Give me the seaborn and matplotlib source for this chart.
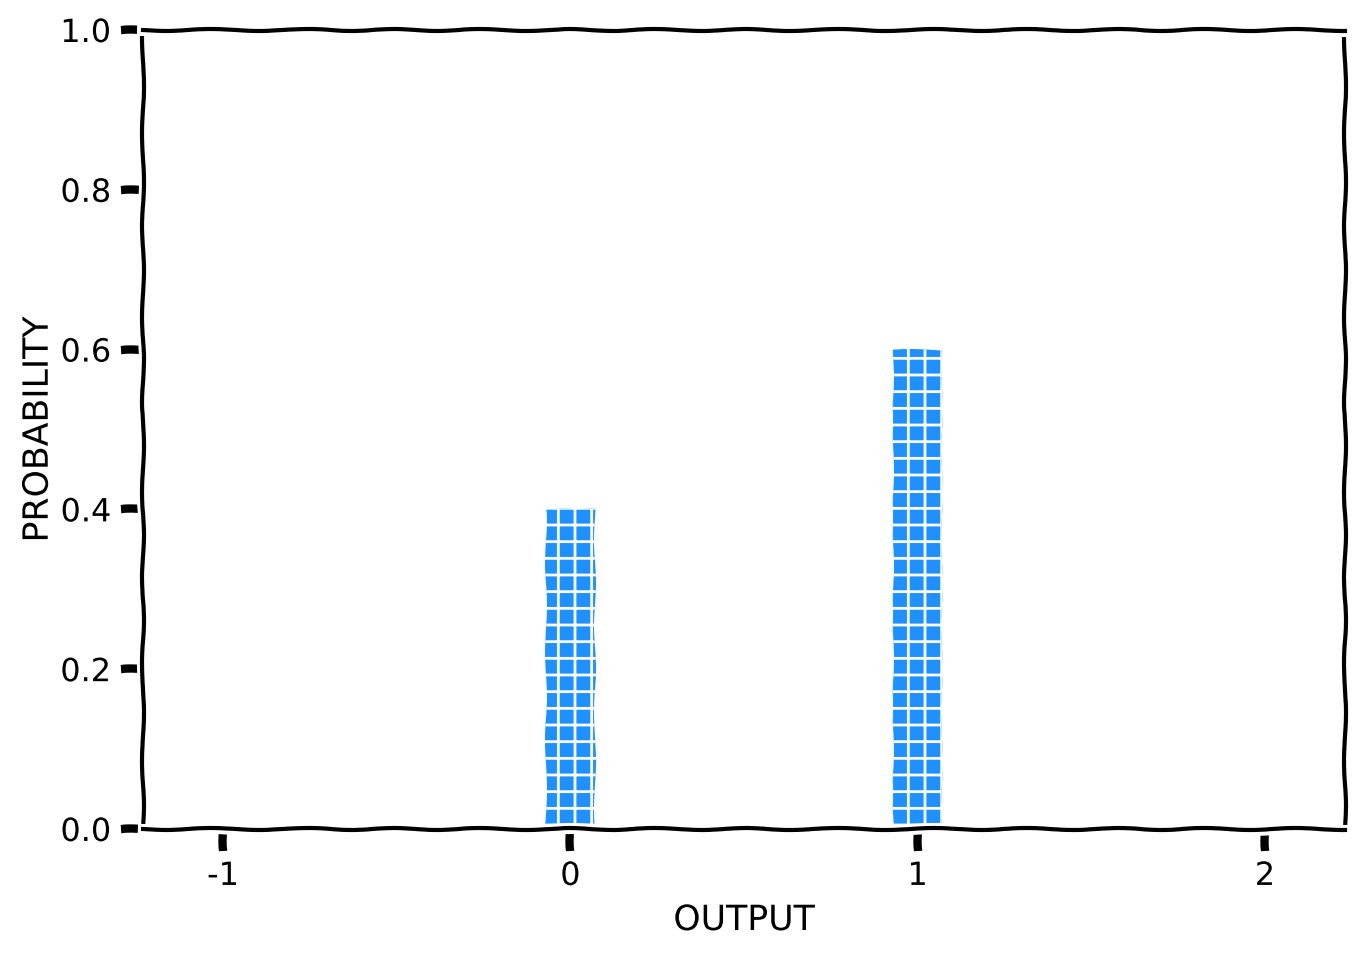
import pandas as pd
import numpy as np
import matplotlib
matplotlib.use('Agg')
import matplotlib.pyplot as plt
import seaborn as sns

# dados
outputs = [0, 1]
probabilities = [0.4, 0.6]
xticks = [-1, 0, 1, 2]
yticks = [0.0, 0.2, 0.4, 0.6, 0.8, 1.0]

df = pd.DataFrame({'output': outputs, 'probability': probabilities})

sns.set_style('white', {'xtick.bottom': True, 'ytick.left': True,
                        'text.color': 'black', 'axes.labelcolor': 'black',
                        'xtick.color': 'black', 'ytick.color': 'black'})
plt.xkcd()
plt.rcParams['font.family'] = ['DejaVu Sans']
plt.rcParams['hatch.color'] = 'white'
plt.rcParams['hatch.linewidth'] = 1.0

fig = plt.figure(figsize=(6.82, 4.77), dpi=200)
ax = fig.add_axes([0.105, 0.130, 0.881, 0.8375])

sns.barplot(data=df, x='output', y='probability', native_scale=True, width=0.14,
            color='#1E90FF', saturation=1, hatch='++', edgecolor='white', linewidth=0, ax=ax)

ax.set_xlim(-1.23, 2.23)
ax.set_ylim(0, 1.0)
ax.set_xticks(xticks)
ax.set_yticks(yticks)
ax.set_yticklabels([f'{v:.1f}' for v in yticks])
ax.tick_params(labelsize=11.5, colors='black', length=8, width=3, direction='out')
ax.set_xlabel('OUTPUT', fontsize=12.5)
ax.set_ylabel('PROBABILITY', fontsize=12.5, labelpad=2)

fig.savefig('out.png', dpi=200)
